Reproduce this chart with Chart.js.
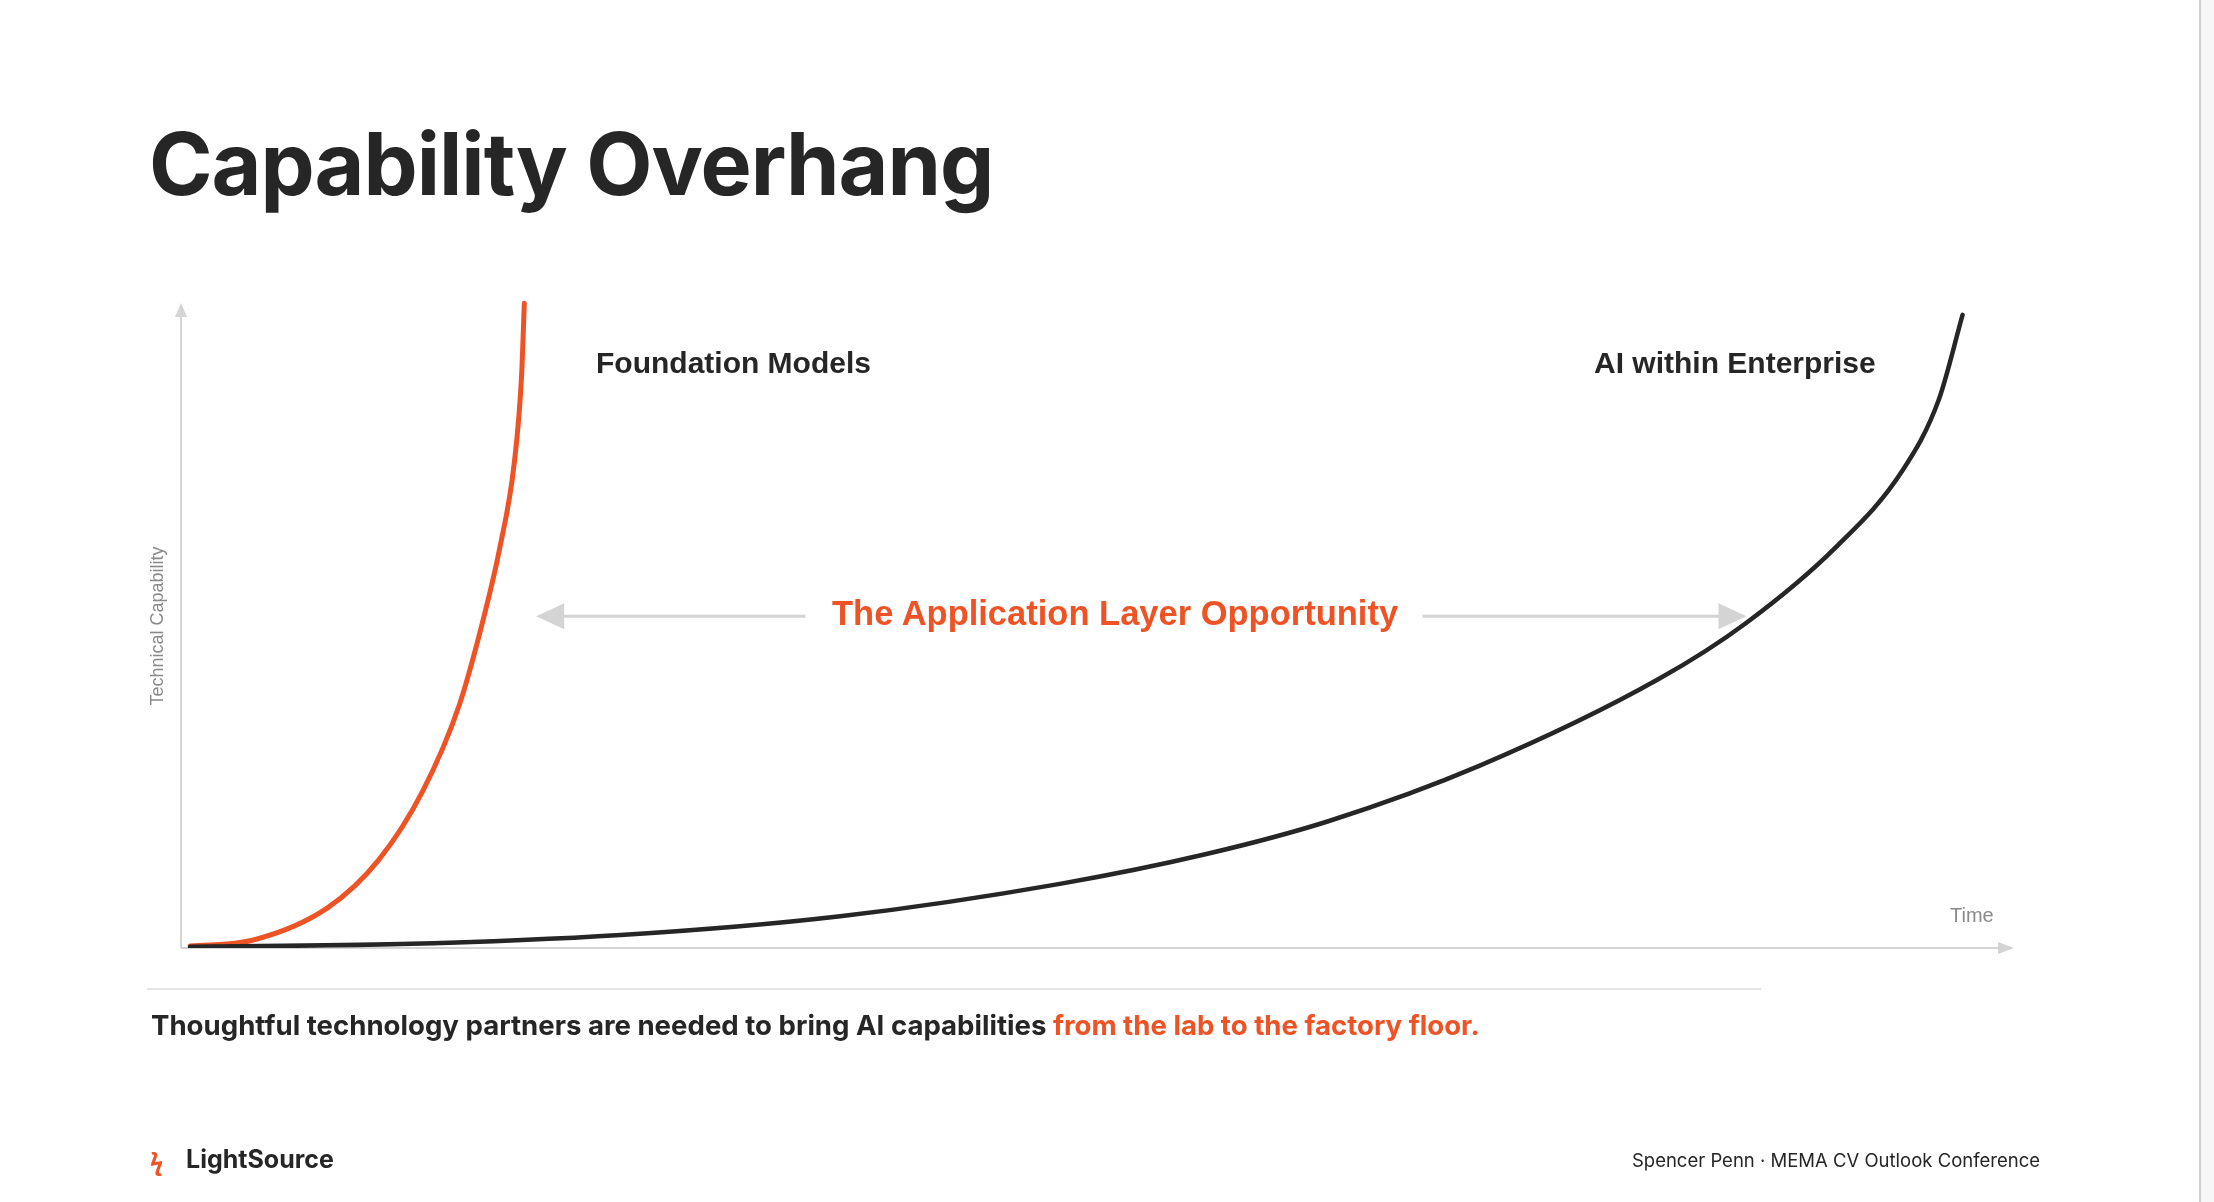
<!DOCTYPE html>
<html><head><meta charset="utf-8">
<script src="https://cdn.jsdelivr.net/npm/chart.js@4/dist/chart.umd.min.js"></script>
<style>
html,body{margin:0;padding:0;background:#fff;width:2214px;height:1202px;overflow:hidden;font-family:Inter,"Noto Sans",sans-serif;color:#262626}
#wrap{position:absolute;left:0;top:0;width:2214px;height:1202px}
.t{position:absolute;white-space:nowrap}
.h{font-family:"Liberation Sans",Arial,sans-serif}
#side{position:absolute;left:2199px;top:0;width:15px;height:1202px;background:#f7f7f8;border-left:2px solid #d0d0d4}
</style></head><body>
<div id="wrap"><canvas id="c" width="2214" height="1202"></canvas></div>
<div id="side"></div>
<div class="t" style="left:149px;top:112px;font-size:86px;font-weight:700;letter-spacing:-1px">Capability Overhang</div>
<div class="t h" style="left:596px;top:346px;font-size:30px;font-weight:700">Foundation Models</div>
<div class="t h" style="left:1594px;top:346px;font-size:30px;font-weight:700">AI within Enterprise</div>
<div class="t h" style="left:832px;top:594px;font-size:34.5px;font-weight:700;color:#ee5326">The Application Layer Opportunity</div>
<div class="t h" style="left:1950px;top:904px;font-size:20px;color:#8a8a8a">Time</div>
<div class="t h" style="left:157px;top:626px;font-size:18px;color:#8a8a8a;transform:translate(-50%,-50%) rotate(-90deg)">Technical Capability</div>
<div style="position:absolute;left:147px;top:988px;width:1614px;height:2px;background:#e6e6e6"></div>
<div class="t" style="left:151px;top:1008px;font-size:27.6px;font-weight:700">Thoughtful technology partners are needed to bring AI capabilities <span style="color:#ee5326">from the lab to the factory floor.</span></div>
<div class="t" style="left:150px;top:1144px;font-size:24px;color:#ee5326;font-weight:700">ϟ</div>
<div class="t" style="left:186px;top:1144px;font-size:25px;font-weight:700">LightSource</div>
<div class="t" style="right:174px;top:1149px;font-size:18.5px">Spencer Penn · MEMA CV Outlook Conference</div>
<script>
const foundationX=[0.5,3.9,8.0,10.8,13.2,15.2,16.4,17.4,18.2,18.6,18.75];
const foundationY=[0.3,1.2,6.2,13.6,24.2,37.5,49.5,61.6,74.8,88.3,99.5];
const enterpriseX=[0.5,12,24,36,48,56,62.7,70.9,80.7,85.5,90.4,94.0,96.0,97.3];
const enterpriseY=[0.2,0.6,2.0,4.9,9.9,14.5,19.6,28.1,41.5,50.2,61.9,73.6,84.6,97.7];
const arrowY=51.2, arrowL=[19.4,34.1], arrowR=[67.8,85.5];
const pts=(xs,ys)=>xs.map((x,i)=>({x,y:ys[i]}));
function tri(ctx,x,y,dir,len,half){ctx.beginPath();
 if(dir==='l'){ctx.moveTo(x,y);ctx.lineTo(x+len,y-half);ctx.lineTo(x+len,y+half);}
 else if(dir==='r'){ctx.moveTo(x,y);ctx.lineTo(x-len,y-half);ctx.lineTo(x-len,y+half);}
 else {ctx.moveTo(x,y);ctx.lineTo(x-half,y+len);ctx.lineTo(x+half,y+len);}
 ctx.closePath();ctx.fill();}
const deco={id:'deco',beforeDatasetsDraw(ch){const c=ch.ctx,xs=ch.scales.x,ys=ch.scales.y;
 c.save();c.strokeStyle='#d4d4d4';c.fillStyle='#d4d4d4';c.lineWidth=2;
 const x0=xs.getPixelForValue(0),y0=ys.getPixelForValue(0);
 c.beginPath();c.moveTo(x0,y0);c.lineTo(x0,312);c.stroke();tri(c,x0,303,'u',14,6);
 c.beginPath();c.moveTo(x0,y0);c.lineTo(2000,y0);c.stroke();tri(c,2014,y0,'r',16,6);
 const ay=ys.getPixelForValue(arrowY);c.lineWidth=3;
 const l0=xs.getPixelForValue(arrowL[0]),l1=xs.getPixelForValue(arrowL[1]);
 c.beginPath();c.moveTo(l0+20,ay);c.lineTo(l1,ay);c.stroke();tri(c,l0,ay,'l',28,13);
 const r0=xs.getPixelForValue(arrowR[0]),r1=xs.getPixelForValue(arrowR[1]);
 c.beginPath();c.moveTo(r0,ay);c.lineTo(r1-20,ay);c.stroke();tri(c,r1,ay,'r',28,13);
 c.restore();}};
new Chart(document.getElementById('c'),{type:'scatter',
 data:{datasets:[
  {data:pts(enterpriseX,enterpriseY),showLine:true,borderColor:'#262626',borderWidth:4.5,pointRadius:0,cubicInterpolationMode:'monotone',borderCapStyle:'round'},
  {data:pts(foundationX,foundationY),showLine:true,borderColor:'#ee5326',borderWidth:5,pointRadius:0,cubicInterpolationMode:'monotone',borderCapStyle:'round'}]},
 options:{responsive:false,animation:false,layout:{padding:{left:181,right:202,top:300,bottom:254}},
  plugins:{legend:{display:false},tooltip:{enabled:false}},
  scales:{x:{type:'linear',min:0,max:100,display:false},y:{min:0,max:100,display:false}}},
 plugins:[deco]});
</script></body></html>
